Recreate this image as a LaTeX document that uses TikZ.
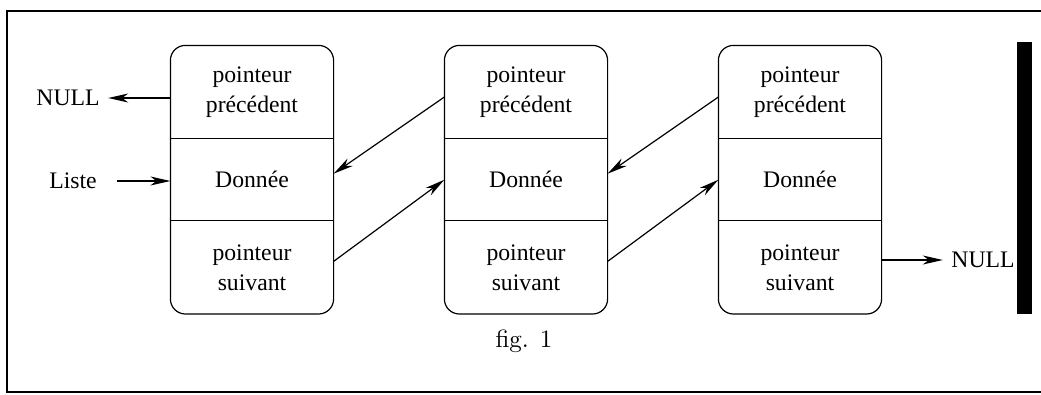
\documentclass[tikz,border=0pt]{standalone}
\usepackage{fontspec}
\usetikzlibrary{arrows.meta,positioning}
\newfontfamily\timesfont{Liberation Serif}
\newfontfamily\figfont{lmroman10-regular.otf}
\tikzset{
  cell/.style = {align=center, inner sep=0pt, minimum width=162pt,
    font=\timesfont\fontsize{23.7}{30}\selectfont},
  ptr/.style = {cell, minimum height=92pt},% pointeur precedent / suivant
  dat/.style = {cell, minimum height=81pt},% donnee
  lbl/.style = {inner ysep=0pt, inner xsep=8pt,
    font=\timesfont\fontsize{23.7}{30}\selectfont}
}
\begin{document}
\begin{tikzpicture}[x=1pt,y=-1pt,>={Stealth[length=20pt,width=9pt,inset=6pt]},
  line width=1.2pt]
\useasboundingbox (0,0) rectangle (1041,394);
% cadre
\draw[line width=2.5pt] (1041,11) -- (7,11) -- (7,392) -- (1041,392);
\fill (1017,42) rectangle (1032,314);
% les trois maillons
\foreach \i/\x in {1/252,2/526,3/800} {
  \node[ptr] (p\i) at (\x,92) {pointeur\\précédent};
  \node[dat, below=0pt of p\i] (d\i) {Donnée};
  \node[ptr, below=0pt of d\i] (s\i) {pointeur\\suivant};
  \draw[rounded corners=15pt] (p\i.north west) rectangle (s\i.south east);
  \draw (d\i.north west) -- (d\i.north east)
        (d\i.south west) -- (d\i.south east);
}
\node[lbl] (nullg) at (68,98) {NULL};
\node[lbl, inner xsep=20pt] (liste) at (73,181) {Liste};
\node[lbl] (nulld) at (983,260) {NULL};
\node[font=\figfont\fontsize{25}{30}\selectfont] (fig) at (524,341) {fig. 1};
% pointeurs
\draw[->] (p1.west |- nullg.east) -- (nullg.east);
\draw[->] (liste.east) -- (d1.west |- liste.east);
\draw[->] (s3.east |- nulld.west) -- (nulld.west);
\draw[->] ([yshift=-5pt]p2.west) -- ([yshift=6pt]d1.east);
\draw[->] ([yshift=-5pt]p3.west) -- ([yshift=6pt]d2.east);
\draw[->] ([yshift=6pt]s1.east) -- (d2.west);
\draw[->] ([yshift=6pt]s2.east) -- (d3.west);
\end{tikzpicture}
\end{document}
